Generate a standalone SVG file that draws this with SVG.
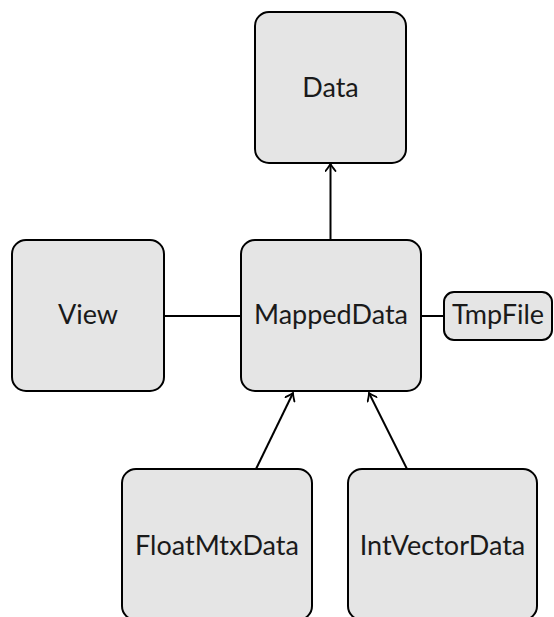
<svg xmlns="http://www.w3.org/2000/svg" width="554" height="617" viewBox="0 0 554 617">
<style>
.box{fill:#e5e5e5;stroke:#000;stroke-width:2}
.lbl{font-family:Lato,"Open Sans",sans-serif;font-size:27px;fill:#1a1a1a;text-anchor:middle}
.con{stroke:#000;stroke-width:2;fill:none}
</style>
<defs>
<marker id="arr" viewBox="-8 -6 10 12" markerWidth="10" markerHeight="12" refX="0" refY="0" orient="auto" markerUnits="userSpaceOnUse">
<path d="M-7,-5 Q-2,-1 0,0 Q-2,1 -7,5" fill="none" stroke="#000" stroke-width="1.8" stroke-linecap="round"/>
</marker>
</defs>
<g id="connectors">
<line class="con" x1="330.5" y1="240" x2="330.5" y2="164" marker-end="url(#arr)"/>
<line class="con" x1="164" y1="316" x2="241" y2="316"/>
<line class="con" x1="421" y1="316" x2="444" y2="316"/>
<line class="con" x1="256" y1="469" x2="293" y2="393" marker-end="url(#arr)"/>
<line class="con" x1="407" y1="469" x2="369" y2="393" marker-end="url(#arr)"/>
</g>
<g id="Data"><rect class="box" x="255" y="12" width="151" height="151" rx="14"/><text class="lbl" x="330.5" y="97">Data</text></g>
<g id="MappedData"><rect class="box" x="241" y="240" width="180" height="151" rx="14"/><text class="lbl" x="331" y="324">MappedData</text></g>
<g id="View"><rect class="box" x="12" y="240" width="152" height="151" rx="14"/><text class="lbl" x="88" y="324">View</text></g>
<g id="TmpFile"><rect class="box" x="444" y="292" width="108" height="48" rx="10"/><text class="lbl" x="498" y="324">TmpFile</text></g>
<g id="FloatMtxData"><rect class="box" x="122" y="469" width="190" height="151" rx="14"/><text class="lbl" x="217" y="555">FloatMtxData</text></g>
<g id="IntVectorData"><rect class="box" x="348" y="469" width="189" height="151" rx="14"/><text class="lbl" x="442.5" y="555">IntVectorData</text></g>
</svg>
